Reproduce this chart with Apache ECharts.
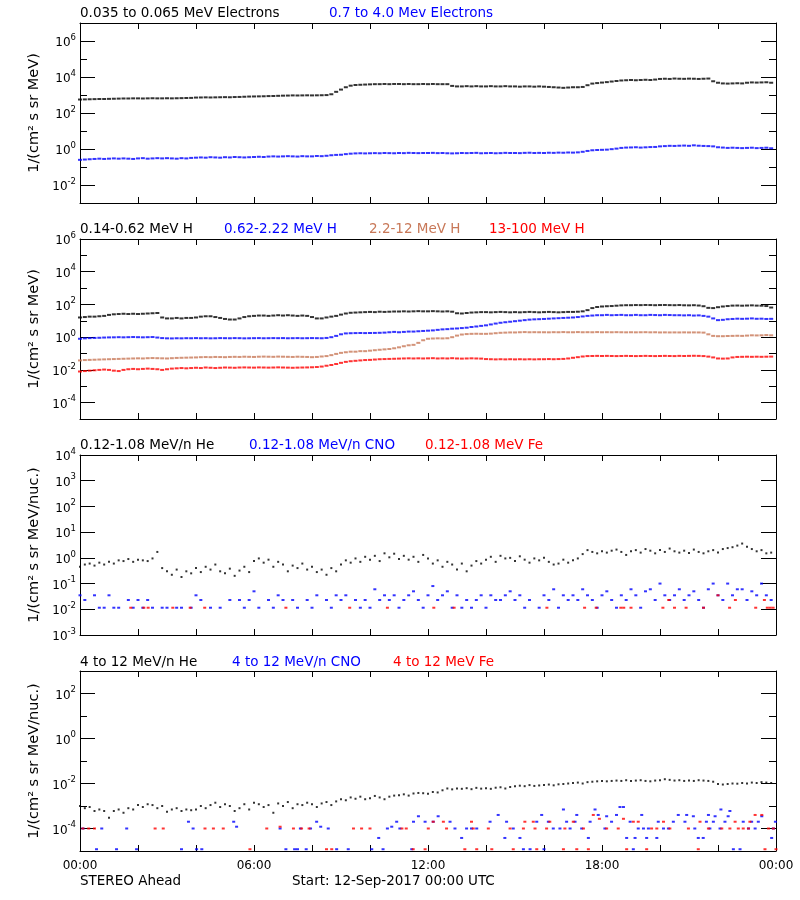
<!DOCTYPE html>
<html><head><meta charset="utf-8">
<script src="https://cdn.jsdelivr.net/npm/echarts@6/dist/echarts.min.js"></script>
<style>html,body{margin:0;padding:0;background:#fff}#c{width:800px;height:900px}</style>
</head><body><div id="c"></div>
<script>
// ---------------- DATA ----------------
const startLabel = 'Start: 12-Sep-2017 00:00 UTC';
const spacecraft = 'STEREO Ahead';
const cadenceMinutes = 10; // one sample every 10 minutes, 144 per day
const xTickHours = [0, 6, 12, 18, 24];

// Panel 1: electrons
const p1Names = ['0.035 to 0.065 MeV Electrons', '0.7 to 4.0 Mev Electrons'];
const p1Low = [
 560,570,580,590,600,600, 610,620,630,640,640,650, 650,640,650,660,650,650, 660,650,660,670,680,690,
 720,730,740,730,740,750, 760,750,770,780,800,820, 830,840,850,870,880,900, 920,930,950,940,950,960,
 950,960,970,990,1100,1500, 2000,2700,3300,3600,3700,3800, 3900,4000,4000,4100,4000,4100, 4100,4000,4100,4000,4000,4100,
 4000,4100,4000,4000,4000,3200, 3000,3000,3100,3000,3100,3000, 3000,3100,3000,3000,3100,3000, 3000,2900,3000,3000,2900,3000,
 2900,2800,2700,2600,2500,2600, 2700,2700,2800,3500,4300,4600, 4900,5200,5600,6000,6400,6600, 6800,6600,6800,7000,6800,7200,
 7800,8000,7800,8200,8000,7900, 8100,8000,7800,8000,8200,5800, 4800,4400,4300,4400,4500,4400, 4800,5000,4900,5000,5100,4800];
const p1High = [
 0.25,0.26,0.27,0.28,0.29,0.28, 0.29,0.30,0.29,0.30,0.29,0.28, 0.30,0.31,0.29,0.30,0.31,0.30, 0.31,0.30,0.29,0.31,0.30,0.32,
 0.33,0.34,0.33,0.35,0.34,0.33, 0.35,0.34,0.36,0.35,0.34,0.35, 0.36,0.37,0.36,0.38,0.39,0.38, 0.39,0.40,0.39,0.38,0.40,0.39,
 0.39,0.41,0.40,0.42,0.45,0.47, 0.48,0.52,0.55,0.57,0.58,0.57, 0.58,0.59,0.58,0.60,0.59,0.58, 0.60,0.59,0.61,0.60,0.59,0.60,
 0.60,0.61,0.59,0.60,0.58,0.57, 0.58,0.60,0.59,0.60,0.61,0.58, 0.59,0.60,0.58,0.59,0.61,0.60, 0.60,0.59,0.61,0.62,0.60,0.61,
 0.60,0.62,0.61,0.63,0.62,0.64, 0.63,0.65,0.70,0.78,0.85,0.88, 0.90,0.92,0.98,1.05,1.15,1.20, 1.22,1.25,1.20,1.24,1.28,1.30,
 1.40,1.45,1.50,1.48,1.52,1.55, 1.50,1.60,1.52,1.48,1.45,1.40, 1.25,1.20,1.15,1.18,1.15,1.12, 1.15,1.18,1.12,1.15,1.18,1.10];

// Panel 2: protons
const p2Names = ['0.14-0.62 MeV H', '0.62-2.22 MeV H', '2.2-12 MeV H', '13-100 MeV H'];
const p2H1 = [
 16,17,18,18,19,20, 23,25,26,27,26,27, 26,27,28,29,30,16, 14,14,15,14,15,15,
 16,18,19,19,17,15, 13,12,12,14,17,19, 20,21,21,20,21,22, 21,22,21,20,21,20,
 17,14,14,16,18,20, 24,28,31,32,33,34, 35,34,36,35,36,37, 37,38,37,38,39,38,
 38,39,38,37,38,36, 29,28,30,32,33,34, 34,33,34,35,34,33, 34,33,34,35,34,33,
 34,35,34,33,34,35, 35,36,38,45,60,70, 75,78,80,84,88,90, 90,92,91,93,92,90,
 92,93,91,90,92,89, 88,90,86,78,62,60, 68,75,80,85,86,84, 86,88,85,84,80,65];
const p2H2 = [
 0.80,0.85,0.88,0.90,0.92,0.95, 0.97,0.98,1.00,0.98,1.00,1.02, 1.00,0.98,1.00,1.02,0.95,0.88, 0.85,0.84,0.86,0.85,0.87,0.86,
 0.88,0.86,0.87,0.85,0.86,0.88, 0.87,0.86,0.88,0.87,0.85,0.86, 0.87,0.88,0.86,0.87,0.88,0.87, 0.88,0.86,0.87,0.88,0.86,0.87,
 0.88,0.87,0.86,0.90,1.0,1.2, 1.5,1.7,1.75,1.78,1.80,1.78, 1.80,1.82,1.85,1.90,2.0,2.1, 2.0,2.1,2.2,2.2,2.3,2.4,
 2.5,2.6,2.8,3.0,3.1,3.3, 3.4,3.6,3.8,4.2,4.5,4.9, 5.3,6.0,6.8,7.6,8.2,8.8, 9.5,10.2,11.0,11.8,12.3,12.6,
 13.0,13.5,14.0,14.5,15.0,15.5, 16.0,17.0,18.5,20,21,22, 22,23,22,22.5,23,22, 22,23,22,22,23,22.5,
 22,23,22.5,22,22,21.5, 22,21,21.5,20,18,14, 11,11.5,12.5,13,13.5,13.2, 13.5,14,13.3,13.5,13,13.2];
const p2H3 = [
 0.038,0.040,0.041,0.042,0.043,0.044, 0.045,0.046,0.047,0.048,0.049,0.050, 0.051,0.050,0.052,0.053,0.052,0.051, 0.050,0.052,0.054,0.055,0.056,0.057,
 0.058,0.060,0.061,0.060,0.062,0.061, 0.060,0.062,0.063,0.062,0.064,0.063, 0.062,0.064,0.065,0.064,0.063,0.065, 0.064,0.063,0.062,0.064,0.063,0.062,
 0.060,0.062,0.066,0.070,0.080,0.095, 0.11,0.12,0.13,0.13,0.14,0.14, 0.15,0.16,0.17,0.18,0.19,0.21, 0.24,0.28,0.32,0.34,0.45,0.65,
 0.80,0.83,0.85,0.84,0.86,1.0, 1.25,1.45,1.55,1.6,1.62,1.6, 1.6,1.65,1.75,1.85,1.9,1.95, 1.95,2.0,2.05,2.0,2.02,2.0,
 2.0,1.98,2.02,2.0,2.05,2.0, 2.0,2.05,2.0,2.02,2.0,2.05, 2.0,2.02,2.0,2.03,2.0,1.98, 2.0,1.98,2.0,2.02,1.98,2.0,
 1.95,1.97,1.95,1.96,1.95,1.97, 1.95,1.96,1.95,1.9,1.5,1.2, 1.15,1.15,1.18,1.2,1.22,1.2, 1.25,1.3,1.28,1.3,1.35,1.3];
const p2H4 = [
 0.0080,0.0085,0.0090,0.0095,0.0100,0.0105, 0.0100,0.0090,0.0085,0.0100,0.0110,0.0115, 0.0110,0.0115,0.0120,0.0115,0.0110,0.0100, 0.0110,0.0120,0.0125,0.0130,0.0125,0.0130,
 0.0135,0.0130,0.0140,0.0135,0.0130,0.0135, 0.0140,0.0138,0.0135,0.0140,0.0142,0.0140, 0.0138,0.0142,0.0140,0.0138,0.0140,0.0143, 0.0140,0.0138,0.0135,0.0138,0.0140,0.0142,
 0.0145,0.0150,0.0160,0.0180,0.0200,0.0230, 0.027,0.031,0.034,0.036,0.038,0.040, 0.041,0.043,0.045,0.046,0.047,0.048, 0.049,0.050,0.051,0.050,0.051,0.050,
 0.051,0.052,0.050,0.051,0.050,0.052, 0.050,0.049,0.050,0.051,0.050,0.049, 0.046,0.045,0.044,0.045,0.044,0.045, 0.044,0.045,0.044,0.045,0.044,0.045,
 0.045,0.046,0.045,0.046,0.047,0.050, 0.055,0.060,0.066,0.070,0.071,0.072, 0.071,0.072,0.071,0.070,0.071,0.072, 0.071,0.070,0.071,0.072,0.071,0.070,
 0.071,0.072,0.071,0.070,0.072,0.071, 0.072,0.073,0.072,0.070,0.065,0.058, 0.050,0.049,0.050,0.058,0.062,0.063, 0.064,0.063,0.064,0.063,0.064,0.065];

// Panel 3: 0.12-1.08 MeV/n ions
const p3Names = ['0.12-1.08 MeV/n He', '0.12-1.08 MeV/n CNO', '0.12-1.08 MeV Fe'];
const p3He = [
 0.45,0.55,0.60,0.50,0.65,0.55, 0.70,0.60,0.80,0.75,0.90,0.70, 0.85,0.80,0.75,0.95,1.70,0.40, 0.30,0.22,0.35,0.18,0.30,0.25,
 0.40,0.28,0.45,0.35,0.55,0.30, 0.25,0.38,0.20,0.32,0.45,0.28, 0.75,0.95,0.65,0.85,0.45,0.70, 0.55,0.30,0.50,0.40,0.60,0.35,
 0.45,0.28,0.35,0.22,0.40,0.30, 0.55,0.80,0.65,0.95,0.70,1.10, 0.85,1.20,0.75,1.50,1.05,1.45, 0.90,1.20,0.85,1.10,0.70,1.30,
 0.95,0.60,0.80,0.45,0.70,0.55, 0.35,0.60,0.30,0.50,0.75,0.60, 0.85,1.10,0.70,1.20,0.95,1.00, 0.75,1.15,0.85,0.65,0.95,0.80,
 1.00,0.70,0.55,0.60,0.85,0.65, 0.80,0.95,1.40,2.00,1.70,1.50, 1.80,1.60,1.90,2.10,1.70,1.30, 1.80,2.00,1.60,2.20,1.90,1.50,
 2.00,1.70,2.30,1.80,1.60,1.90, 1.55,2.10,1.70,1.50,1.80,2.00, 1.60,2.20,2.40,2.60,3.00,3.60, 2.70,2.20,1.80,2.00,1.50,1.60];
const p3Cno = [
 0.035,0.023,null,0.035,0.0115,0.0115, 0.035,0.0115,0.0115,null,0.023,0.0115, 0.023,0.0115,0.023,0.0115,null,0.0115, 0.0115,null,0.0115,0.0115,null,0.0115,
 0.035,0.023,null,0.0115,null,0.0115, null,0.023,null,0.023,0.0115,0.023, 0.05,0.0115,null,0.023,0.0115,0.035, 0.023,null,0.023,0.0115,null,0.023,
 0.0115,0.035,null,0.023,0.0115,0.035, 0.023,0.035,null,0.023,0.0115,0.023, 0.0115,0.06,0.023,0.035,0.023,0.035, 0.0115,0.023,0.035,0.05,0.023,0.0115,
 0.035,0.08,0.023,0.035,0.05,0.0115, 0.035,0.0115,0.023,0.0115,0.023,0.035, 0.0115,0.035,0.023,0.023,0.035,0.05, 0.023,0.035,0.0115,0.023,null,0.0115,
 0.035,0.023,0.06,0.0115,0.035,0.023, 0.035,0.023,0.06,0.035,0.023,0.0115, 0.035,0.05,0.023,0.0115,0.035,0.023, 0.06,0.035,0.0115,0.05,0.06,0.023,
 0.1,0.035,0.023,0.035,0.06,0.023, 0.035,0.05,0.023,0.0115,0.06,0.1, 0.035,0.023,0.1,0.035,0.06,0.06, 0.023,0.05,0.035,0.1,0.035,0.023];
const p3FeHours = [1.75,2.2,2.35,3.2,3.8,4.3,7.1,9.3,10.6,12.2,12.9,16.1,17.4,17.8,18.65,18.75,19.0,20.1,20.3,20.5,20.9,21.5,22.0,22.4,22.6,23.3,23.6,23.7,23.8,23.9];
const p3FeVals  = [0.0115,0.0115,0.0115,0.0115,0.0115,0.0115,0.0115,0.0115,0.0115,0.0115,0.0115,0.0115,0.0115,0.0115,0.0115,0.0115,0.0115,0.0115,0.023,0.0115,0.0115,0.0115,0.035,0.0115,0.023,0.0115,0.023,0.0115,0.0115,0.0115];

// Panel 4: 4-12 MeV/n ions
const p4Names = ['4 to 12 MeV/n He', '4 to 12 MeV/n CNO', '4 to 12 MeV Fe'];
const p4He = [
 1.0e-3,8e-4,9e-4,6e-4,7e-4,6e-4, 3e-4,6e-4,7e-4,5e-4,8e-4,7e-4, 1.1e-3,9e-4,1.2e-3,1.1e-3,8e-4,1.0e-3, 5.5e-4,7e-4,8e-4,6e-4,7e-4,6.5e-4,
 7e-4,1.0e-3,8e-4,1.1e-3,1.4e-3,9e-4, 1.2e-3,1.0e-3,6e-4,8e-4,1.2e-3,7e-4, 1.4e-3,1.2e-3,9e-4,1.1e-3,5e-4,1.3e-3, 1.0e-3,1.5e-3,8e-4,1.2e-3,1.1e-3,1.4e-3,
 1.2e-3,9e-4,1.3e-3,1.5e-3,1.1e-3,1.6e-3, 2.0e-3,1.8e-3,2.4e-3,2.1e-3,2.6e-3,2.0e-3, 2.2e-3,2.8e-3,2.4e-3,2.0e-3,2.6e-3,2.9e-3, 3.0e-3,3.3e-3,2.9e-3,3.6e-3,3.8e-3,3.7e-3,
 3.5e-3,4.2e-3,4.0e-3,5.0e-3,6.0e-3,5.5e-3, 6.0e-3,5.8e-3,6.2e-3,5.6e-3,6.4e-3,5.9e-3, 6.2e-3,5.8e-3,6.5e-3,6.8e-3,6.0e-3,7.0e-3, 7.5e-3,8.0e-3,7.6e-3,8.5e-3,7.8e-3,8.2e-3,
 8.5e-3,9.0e-3,8.3e-3,9.2e-3,9.5e-3,1.0e-2, 1.05e-2,1.1e-2,1.0e-2,1.15e-2,1.2e-2,1.25e-2, 1.3e-2,1.25e-2,1.3e-2,1.35e-2,1.3e-2,1.4e-2, 1.3e-2,1.35e-2,1.4e-2,1.3e-2,1.25e-2,1.35e-2,
 1.4e-2,1.55e-2,1.45e-2,1.35e-2,1.4e-2,1.3e-2, 1.35e-2,1.3e-2,1.4e-2,1.35e-2,1.3e-2,1.2e-2, 9.5e-3,9.0e-3,9.5e-3,1.0e-2,9.8e-3,1.05e-2, 1.0e-2,1.1e-2,1.05e-2,1.15e-2,1.1e-2,1.05e-2];
const p4CnoHours = [0.1,0.57,0.75,1.26,1.61,1.95,3.5,3.74,3.9,4.02,4.2,5.3,5.4,6.9,7.1,7.4,7.5,7.6,7.8,7.95,8.16,8.3,8.56,8.85,9.25,10.06,10.3,10.45,10.6,10.75,10.92,11.03,
 11.44,11.5,11.67,11.9,12.18,12.35,12.76,12.93,13.16,13.33,13.5,13.68,14.14,14.42,14.65,14.71,14.94,15.17,15.29,15.52,15.75,15.92,16.0,16.15,16.32,16.55,16.67,16.78,16.9,17.07,17.13,17.3,17.53,17.59,17.76,17.87,
 18.1,18.16,18.33,18.5,18.62,18.74,18.85,18.97,19.08,19.14,19.25,19.37,19.43,19.54,19.6,19.89,19.94,20.12,20.29,20.46,20.63,20.86,20.92,21.15,21.2,21.32,21.49,21.6,21.67,21.72,21.84,21.9,
 22.07,22.1,22.24,22.35,22.41,22.53,22.76,22.87,23.05,23.16,23.28,23.39,23.51,23.85,23.91,23.98];
const p4CnoVals = [1e-4,1.2e-5,1e-4,1.2e-5,1e-4,1.2e-5,1.2e-5,2e-4,1e-4,1.2e-5,1.2e-5,2e-4,1.2e-4,1e-4,1.2e-5,1.2e-5,1.2e-5,1e-4,1.2e-5,1e-4,2e-4,1.2e-4,1e-4,1.2e-5,1.2e-5,1.2e-5,3.8e-5,1.2e-5,1e-4,1.2e-4,2e-4,1e-4,
 1.2e-5,2e-4,3.5e-4,2e-4,2e-4,3.5e-4,2e-4,1e-4,3.8e-5,1e-4,1e-4,1e-4,2e-4,4e-4,3.8e-5,2e-4,1e-4,3.8e-5,1.2e-5,1.2e-5,2e-4,4e-4,1.2e-5,2e-4,1e-4,1e-4,7e-4,2e-4,1e-4,2e-4,4e-4,1e-4,3.8e-5,2e-4,7e-4,4e-4,
 1e-4,3.5e-4,2e-4,4e-4,9e-4,9e-4,3.8e-5,2e-4,1.2e-5,3.8e-5,1e-4,4e-4,1e-4,3.8e-5,1e-4,3.8e-5,2e-4,1e-4,1e-4,2e-4,4e-4,2e-4,4e-4,3.5e-4,1e-4,3.8e-5,3.8e-5,2e-4,4e-4,1e-4,2e-4,3.5e-4,
 1e-4,7e-4,2e-4,3.5e-4,6e-4,1.2e-5,1.2e-5,2e-4,1e-4,2e-4,1e-4,2e-4,3.5e-4,3.8e-5,1e-4,2e-4];
const p4FeHours = [0.1,0.3,0.5,2.59,2.87,4.31,4.6,4.94,5.86,6.44,6.9,7.36,7.64,7.9,8.5,8.68,9.43,9.71,10.0,
 11.1,11.25,11.49,11.9,12.01,12.18,12.53,12.64,13.27,13.5,13.56,13.68,14.08,14.2,14.83,14.94,15.29,15.34,15.63,15.69,15.75,16.09,16.2,16.67,16.72,17.01,17.13,17.36,17.53,17.7,17.91,
 18.16,18.56,18.74,18.85,19.08,19.25,19.54,19.71,19.89,20.12,20.34,20.98,21.32,21.38,21.67,22.13,22.41,22.59,22.7,22.87,23.05,23.1,23.28,23.51,23.62,23.74,23.91,24.0];
const p4FeVals = [1e-4,1e-4,1e-4,1e-4,1e-4,1e-4,1e-4,1e-4,1.2e-5,1e-4,1.2e-4,1e-4,1e-4,1e-4,1.2e-5,1.2e-5,1e-4,1e-4,1e-4,
 1e-4,1e-4,1.2e-5,1.2e-5,1e-4,2e-4,2e-4,1e-4,1.2e-5,2e-4,1e-4,1.2e-5,1e-4,1.2e-5,1e-4,1.2e-5,1e-4,2e-4,2e-4,1e-4,1.2e-5,1e-4,2e-4,1.2e-5,1e-4,2e-4,1.2e-5,1e-4,1.2e-5,4e-4,2.7e-4,
 1e-4,1e-4,2.7e-4,1.2e-5,2e-4,2e-4,1.2e-5,1e-4,1e-4,2e-4,1e-4,1e-4,1.2e-5,2e-4,1e-4,1e-4,1e-4,2e-4,1e-4,1e-4,1e-4,2e-4,4e-4,4e-4,1.2e-5,1e-4,1e-4,1.2e-5];

// Axis ranges and tick values (log axes)
const p1Range = [1e-3, 1e7], p1Major = [1e-2, 1, 1e2, 1e4, 1e6], p1Minor = [1e-1, 1e1, 1e3, 1e5];
const p2Range = [1e-5, 1e6], p2Major = [1e-4, 1e-2, 1, 1e2, 1e4, 1e6], p2Minor = [1e-3, 1e-1, 1e1, 1e3, 1e5];
const p3Range = [1e-3, 1e4], p3Major = [1e-3, 1e-2, 1e-1, 1, 1e1, 1e2, 1e3, 1e4], p3Minor = [];
const p4Range = [1e-5, 1e3], p4Major = [1e-4, 1e-2, 1, 1e2], p4Minor = [1e-3, 1e-1, 1e1];
const unitMeV = '1/(cm\u00b2 s sr MeV)';
const unitNuc = '1/(cm\u00b2 s sr MeV/nuc.)';

// ---------------- LAYOUT / STYLE ----------------
const FONT = 'DejaVu Sans';
const BLACK = '#000000', BLUE = '#0000ff', TAN = '#c87858', RED = '#ff0000';
const gridLeft = 80, gridWidth = 696, gridHeight = 180;
const gridTops = [23, 239, 455, 671];
const titleLefts = [[80, 329], [80, 224, 369, 489], [80, 249, 425], [80, 232, 393]];
const titleTops = [6, 222, 438, 655];
const titleFontSize = 13.5;

const times = [];
for (let i = 0; i < 24 * 60 / cadenceMinutes; i++) times.push(i * cadenceMinutes / 60);
const onGrid = arr => arr.map((v, i) => [times[i], v]);
const pairs = (hs, vs) => hs.map((h, i) => [h, vs[i]]);

const panels = [
  { range: p1Range, major: p1Major, minor: p1Minor, unit: unitMeV, names: p1Names,
    colors: [BLACK, BLUE], data: [onGrid(p1Low), onGrid(p1High)], size: [[4, 2], [4, 2]] },
  { range: p2Range, major: p2Major, minor: p2Minor, unit: unitMeV, names: p2Names,
    colors: [BLACK, BLUE, TAN, RED], data: [onGrid(p2H1), onGrid(p2H2), onGrid(p2H3), onGrid(p2H4)], size: [[4, 2], [4, 2], [4, 2], [4, 2]] },
  { range: p3Range, major: p3Major, minor: p3Minor, unit: unitNuc, names: p3Names,
    colors: [BLACK, BLUE, RED], data: [onGrid(p3He), onGrid(p3Cno), pairs(p3FeHours, p3FeVals)], size: [[2, 2], [3, 2], [3, 2]] },
  { range: p4Range, major: p4Major, minor: p4Minor, unit: unitNuc, names: p4Names,
    colors: [BLACK, BLUE, RED], data: [onGrid(p4He), pairs(p4CnoHours, p4CnoVals), pairs(p4FeHours, p4FeVals)], size: [[2, 2], [3, 2], [3, 2]] }
];

const expLabel = v => {
  const e = Math.round(Math.log10(v));
  return '{b|10}{s|' + e + '}';
};
const pad2 = n => (n < 10 ? '0' : '') + n;

const grids = [], xAxes = [], yAxes = [], series = [], titles = [];
panels.forEach((p, gi) => {
  grids.push({ left: gridLeft, top: gridTops[gi], width: gridWidth, height: gridHeight, containLabel: false });
  const xi = xAxes.length;
  ['bottom', 'top'].forEach(pos => {
    xAxes.push({
      type: 'value', gridIndex: gi, position: pos, min: 0, max: 24, interval: 2,
      axisLine: { show: true, onZero: false, lineStyle: { color: BLACK, width: 1 } },
      axisTick: { show: true, inside: true, length: 6, lineStyle: { color: BLACK } },
      axisLabel: {
        show: gi === 3 && pos === 'bottom', margin: 9, color: BLACK, fontFamily: FONT, fontSize: 12,
        formatter: v => (xTickHours.indexOf(v) >= 0 ? pad2(v % 24) + ':00' : '')
      },
      splitLine: { show: false }
    });
  });
  const yi = yAxes.length;
  ['left', 'right'].forEach(pos => {
    yAxes.push({
      type: 'log', logBase: 10, gridIndex: gi, position: pos, min: p.range[0], max: p.range[1],
      axisLine: { show: true, onZero: false, lineStyle: { color: BLACK, width: 1 } },
      axisTick: { show: true, inside: true, length: 15, customValues: p.major, lineStyle: { color: BLACK } },
      axisLabel: {
        show: pos === 'left', customValues: p.major, margin: 4, formatter: expLabel,
        rich: {
          b: { fontFamily: FONT, fontSize: 12, color: BLACK, lineHeight: 16, verticalAlign: 'bottom' },
          s: { fontFamily: FONT, fontSize: 8.5, color: BLACK, lineHeight: 10, verticalAlign: 'top' }
        }
      },
      splitLine: { show: false },
      name: pos === 'left' ? p.unit : '', nameLocation: 'middle', nameGap: 37, nameRotate: 90,
      nameTextStyle: { fontFamily: FONT, fontSize: 14.5, color: BLACK }
    });
  });
  if (p.minor.length) {
    ['left', 'right'].forEach(pos => {
      yAxes.push({
        type: 'log', logBase: 10, gridIndex: gi, position: pos, min: p.range[0], max: p.range[1],
        axisLine: { show: false, onZero: false },
        axisTick: { show: true, inside: true, length: 7, customValues: p.minor, lineStyle: { color: BLACK } },
        axisLabel: { show: false },
        splitLine: { show: false }
      });
    });
  }
  p.names.forEach((name, si) => {
    series.push({
      type: 'scatter', name: name, xAxisIndex: xi, yAxisIndex: yi,
      data: p.data[si], symbol: 'rect', symbolSize: p.size[si],
      itemStyle: { color: p.colors[si] }, silent: true, z: 2 + si
    });
    titles.push({
      text: name, left: titleLefts[gi][si], top: titleTops[gi], padding: 0,
      textStyle: { color: p.colors[si], fontFamily: FONT, fontSize: titleFontSize, fontWeight: 'normal' }
    });
  });
});
titles.push({ text: spacecraft, left: 80, top: 874, padding: 0,
  textStyle: { color: BLACK, fontFamily: FONT, fontSize: titleFontSize, fontWeight: 'normal' } });
titles.push({ text: startLabel, left: 292, top: 874, padding: 0,
  textStyle: { color: BLACK, fontFamily: FONT, fontSize: titleFontSize, fontWeight: 'normal' } });

const chart = echarts.init(document.getElementById('c'), null, { renderer: 'canvas', width: 800, height: 900 });
chart.setOption({
  animation: false,
  backgroundColor: '#ffffff',
  textStyle: { fontFamily: FONT },
  title: titles,
  grid: grids,
  xAxis: xAxes,
  yAxis: yAxes,
  series: series
});
</script></body></html>
